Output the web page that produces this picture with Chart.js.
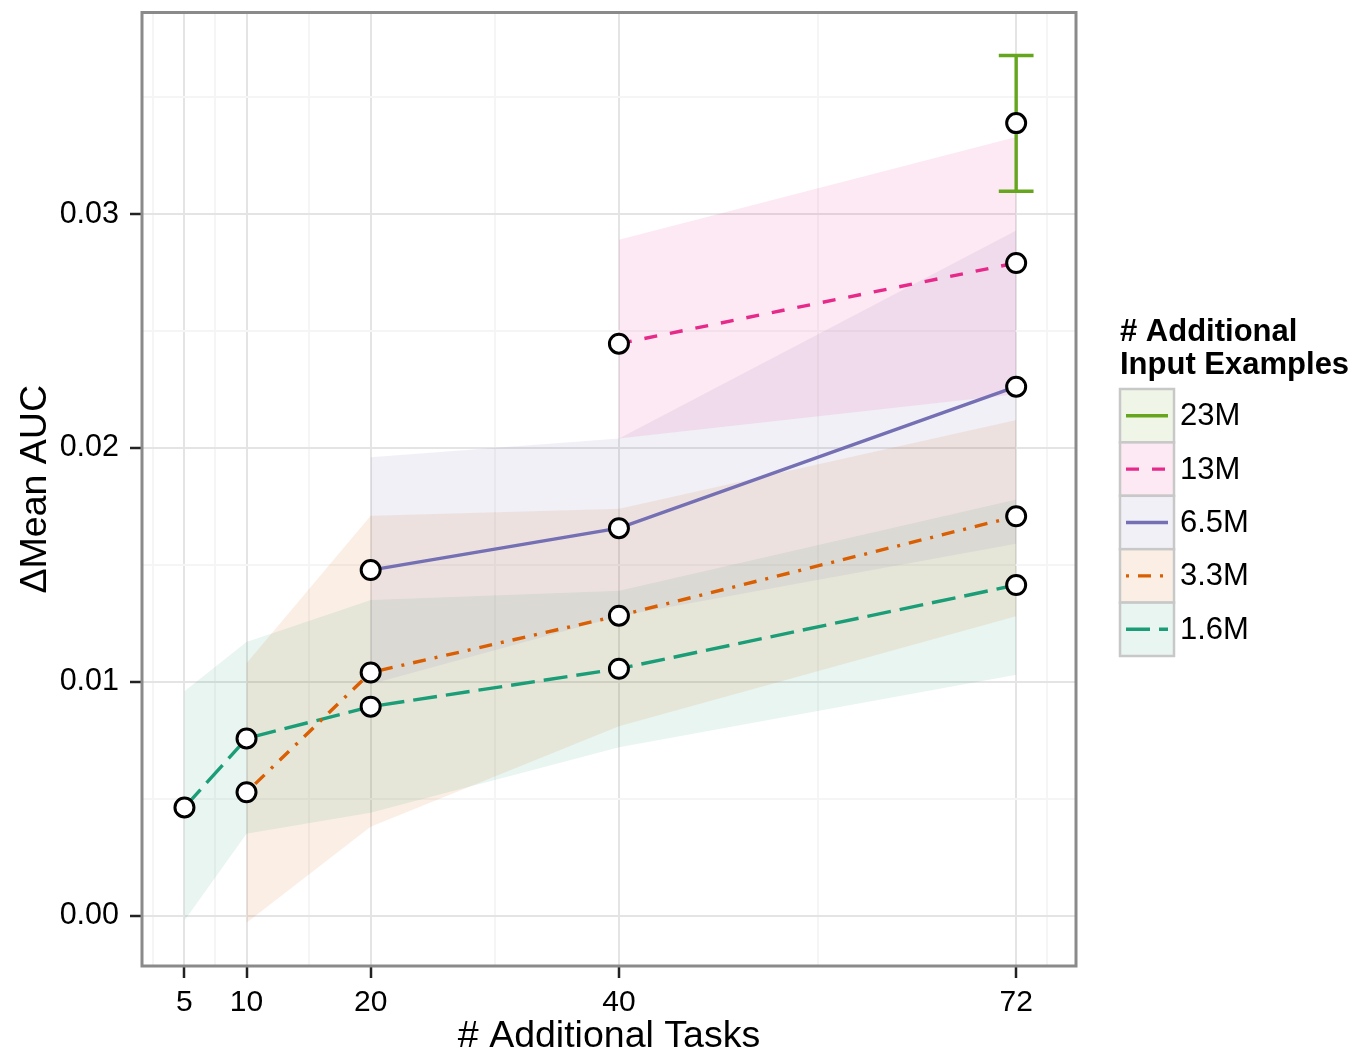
<!DOCTYPE html>
<html>
<head>
<meta charset="utf-8">
<script src="https://cdn.jsdelivr.net/npm/chart.js@4.4.1/dist/chart.umd.min.js"></script>
<style>
  html, body { margin: 0; padding: 0; background: #fff; }
  #wrap { width: 1356px; height: 1055px; position: relative; }
</style>
</head>
<body>
<div id="wrap"><canvas id="aucChart"></canvas></div>
<script>
// 데이터
const tasks = [5, 10, 20, 40, 72];
const xMajor = [5, 10, 20, 40, 72];
const xMinor = [2.5, 7.5, 15, 30, 56, 74.5];
const yMajor = [0, 0.01, 0.02, 0.03];
const yMinor = [0.005, 0.015, 0.025, 0.035];

const seriesNames = ['23M', '13M', '6.5M', '3.3M', '1.6M'];

// 평균 AUC 차이
const mean23M = [null, null, null, null, 0.03389];
const mean13M = [null, null, null, 0.02446, 0.02791];
const mean6_5M = [null, null, 0.01478, 0.01657, 0.02262];
const mean3_3M = [null, 0.00528, 0.01040, 0.01283, 0.01708];
const mean1_6M = [0.00463, 0.00758, 0.00894, 0.01056, 0.01414];

// 하한 / 상한 (리본, 23M은 에러바)
const low23M = [null, null, null, null, 0.03098];
const low13M = [null, null, null, 0.0204, 0.0223];
const low6_5M = [null, null, 0.0099, 0.0128, 0.0159];
const low3_3M = [null, -0.0003, 0.0038, 0.0081, 0.0128];
const low1_6M = [-0.0002, 0.0035, 0.0044, 0.0072, 0.0103];

const high23M = [null, null, null, null, 0.03678];
const high13M = [null, null, null, 0.0289, 0.0333];
const high6_5M = [null, null, 0.0196, 0.0204, 0.0293];
const high3_3M = [null, 0.0108, 0.0171, 0.0174, 0.0212];
const high1_6M = [0.0096, 0.0117, 0.0135, 0.0139, 0.0178];

// 스타일
const colors = { '23M': '#66a61e', '13M': '#e7298a', '6.5M': '#7570b3', '3.3M': '#d95f02', '1.6M': '#1b9e77' };
const dashes = { '23M': [], '13M': [13, 13], '6.5M': [], '3.3M': [3, 9, 13, 9], '1.6M': [24, 9] };
const means = { '23M': mean23M, '13M': mean13M, '6.5M': mean6_5M, '3.3M': mean3_3M, '1.6M': mean1_6M };
const lows = { '23M': low23M, '13M': low13M, '6.5M': low6_5M, '3.3M': low3_3M, '1.6M': low1_6M };
const highs = { '23M': high23M, '13M': high13M, '6.5M': high6_5M, '3.3M': high3_3M, '1.6M': high1_6M };

function hexA(hex, a) {
  const n = parseInt(hex.slice(1), 16);
  return `rgba(${(n >> 16) & 255},${(n >> 8) & 255},${n & 255},${a})`;
}
function pts(arr) {
  return tasks.map((t, i) => ({ x: t, y: arr[i] })).filter(p => p.y !== null);
}

const FONT = '"Liberation Sans", Arial, Helvetica, sans-serif';
Chart.defaults.font.family = FONT;
Chart.defaults.color = '#000';

const datasets = [];
// 선 + 점
seriesNames.forEach(name => {
  const single = pts(means[name]).length === 1;
  datasets.push({
    label: name,
    data: pts(means[name]),
    borderColor: colors[name],
    borderWidth: 3.4,
    borderDash: dashes[name],
    fill: false,
    tension: 0,
    order: 0,
    pointRadius: 9.5,
    pointBackgroundColor: '#fff',
    pointBorderColor: '#000',
    pointBorderWidth: 3,
    errorBar: single ? { x: tasks[4], lo: lows[name][4], hi: highs[name][4], color: colors[name] } : null
  });
});
// 리본
seriesNames.forEach(name => {
  datasets.push({
    label: name + ' hi',
    data: pts(highs[name]),
    borderWidth: 0,
    pointRadius: 0,
    backgroundColor: hexA(colors[name], 0.1),
    fill: '+1',
    order: 1
  });
  datasets.push({
    label: name + ' lo',
    data: pts(lows[name]),
    borderWidth: 0,
    pointRadius: 0,
    fill: false,
    order: 1
  });
});

// 에러바 (23M)
const errorBarPlugin = {
  id: 'errorBar',
  beforeDatasetDraw(chart, args) {
    const eb = chart.data.datasets[args.index].errorBar;
    if (!eb) return;
    const { ctx } = chart;
    const xs = chart.scales.x, ys = chart.scales.y;
    const capHalf = 1.4;
    const px = xs.getPixelForValue(eb.x);
    const pl = xs.getPixelForValue(eb.x - capHalf), pr = xs.getPixelForValue(eb.x + capHalf);
    const yl = ys.getPixelForValue(eb.lo), yh = ys.getPixelForValue(eb.hi);
    ctx.save();
    ctx.strokeStyle = eb.color;
    ctx.lineWidth = 3.4;
    ctx.beginPath();
    ctx.moveTo(px, yl); ctx.lineTo(px, yh);
    ctx.moveTo(pl, yl); ctx.lineTo(pr, yl);
    ctx.moveTo(pl, yh); ctx.lineTo(pr, yh);
    ctx.stroke();
    ctx.restore();
  }
};

// 패널 테두리 + 범례
const panelPlugin = {
  id: 'panel',
  afterDraw(chart) {
    const { ctx, chartArea: a } = chart;
    ctx.save();
    ctx.strokeStyle = '#8a8a8a';
    ctx.lineWidth = 3;
    ctx.strokeRect(a.left, a.top, a.right - a.left, a.bottom - a.top);

    // 범례
    const x0 = a.right + 44;
    ctx.fillStyle = '#000';
    ctx.font = `bold 31px ${FONT}`;
    ctx.textAlign = 'left';
    ctx.textBaseline = 'middle';
    ctx.fillText('# Additional', x0, 332);
    ctx.fillText('Input Examples', x0, 365);

    const boxW = 54, boxH = 53.4, top = 389;
    seriesNames.forEach((name, i) => {
      const y = top + i * boxH;
      ctx.fillStyle = '#fff';
      ctx.fillRect(x0, y, boxW, boxH);
      ctx.fillStyle = hexA(colors[name], 0.1);
      ctx.fillRect(x0, y, boxW, boxH);
      ctx.strokeStyle = '#c8c8c8';
      ctx.lineWidth = 2.5;
      ctx.setLineDash([]);
      ctx.strokeRect(x0, y, boxW, boxH);

      ctx.strokeStyle = colors[name];
      ctx.lineWidth = 3.4;
      ctx.setLineDash(dashes[name]);
      ctx.beginPath();
      ctx.moveTo(x0 + 6, y + boxH / 2);
      ctx.lineTo(x0 + 48, y + boxH / 2);
      ctx.stroke();
      ctx.setLineDash([]);

      ctx.fillStyle = '#000';
      ctx.font = `31px ${FONT}`;
      ctx.fillText(name, x0 + 60, y + boxH / 2 + 1);
    });
    ctx.restore();
  }
};

new Chart(document.getElementById('aucChart'), {
  type: 'line',
  data: { datasets },
  options: {
    responsive: true,
    maintainAspectRatio: false,
    animation: false,
    events: [],
    layout: { padding: { top: 10, right: 280, left: 0, bottom: 0 } },
    plugins: {
      legend: { display: false },
      tooltip: { enabled: false }
    },
    scales: {
      x: {
        type: 'linear',
        min: 1.58,
        max: 76.82,
        afterBuildTicks: s => { s.ticks = [...xMajor, ...xMinor].sort((p, q) => p - q).map(v => ({ value: v })); },
        afterFit: s => { s.height = 89; s.paddingLeft = 0; s.paddingRight = 0; },
        ticks: {
          autoSkip: false, maxRotation: 0, padding: 7,
          font: { size: 30 }, color: '#000',
          callback: v => xMajor.includes(v) ? String(v) : ''
        },
        grid: {
          lineWidth: 2,
          color: c => xMajor.includes(c.tick.value) ? '#e4e4e4' : '#f5f5f5',
          tickLength: 12,
          tickWidth: 2.5,
          tickColor: c => xMajor.includes(c.tick.value) ? '#222' : 'rgba(0,0,0,0)'
        },
        border: { display: false },
        title: { display: true, text: '# Additional Tasks', font: { size: 37.5, lineHeight: 1 }, color: '#000', padding: { top: 0, bottom: 0 } }
      },
      y: {
        type: 'linear',
        min: -0.00215,
        max: 0.03862,
        afterBuildTicks: s => { s.ticks = [...yMajor, ...yMinor].sort((p, q) => p - q).map(v => ({ value: v })); },
        afterFit: s => { s.width = 142; s.paddingTop = 0; s.paddingBottom = 0; },
        ticks: {
          autoSkip: false, padding: 11,
          font: { size: 30.5 }, color: '#000',
          callback: v => yMajor.includes(v) ? v.toFixed(2) : ''
        },
        grid: {
          lineWidth: 2,
          color: c => yMajor.includes(c.tick.value) ? '#e4e4e4' : '#f5f5f5',
          tickLength: 12,
          tickWidth: 2.5,
          tickColor: c => yMajor.includes(c.tick.value) ? '#222' : 'rgba(0,0,0,0)'
        },
        border: { display: false },
        title: { display: true, text: 'ΔMean AUC', font: { size: 37.5, lineHeight: 1 }, color: '#000', padding: { top: 17, bottom: 0 } }
      }
    }
  },
  plugins: [errorBarPlugin, panelPlugin]
});
</script>
</body>
</html>
